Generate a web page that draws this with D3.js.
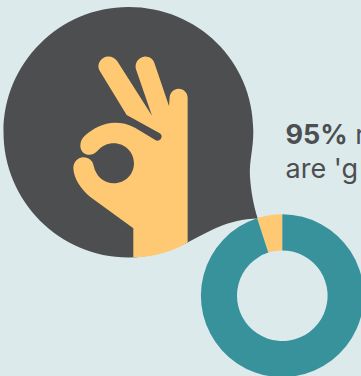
<!DOCTYPE html>
<html>
<head>
<meta charset="utf-8">
<script src="https://cdn.jsdelivr.net/npm/d3@7"></script>
<style>
html,body{margin:0;padding:0;background:#dceaec;overflow:hidden}
svg{display:block}
</style>
</head>
<body>
<svg id="chart" width="361" height="376"></svg>
<script>
// Share of responses shown in the ring
const categories = ["good", "other"];
const shares = [5, 95];
const ringColors = ["#ffc973", "#38929b"];
const captionLines = [["95%", " r"], ["", "are 'g"]];

const svg = d3.select("#chart");

// Speech bubble with a tail running down to the ring
const bubble = d3.path();
bubble.moveTo(253.3, 130);
bubble.bezierCurveTo(253.5, 150, 249, 160, 250, 177);
bubble.bezierCurveTo(251, 192, 254, 207, 257.7, 218.5);
bubble.bezierCurveTo(228, 219, 208, 232, 187.5, 242.5);
bubble.bezierCurveTo(170, 251, 150, 257.5, 128.5, 257.5);
bubble.bezierCurveTo(59.5, 257.5, 3.5, 201, 3.5, 132);
bubble.bezierCurveTo(3.5, 63, 59.5, 7, 128.5, 7);
bubble.bezierCurveTo(197.5, 7, 253, 61, 253.3, 130);
bubble.closePath();
svg.append("path").attr("d", bubble.toString()).attr("fill", "#4d4e50");

// Hand making the OK sign, traced on a 3x grid
const hand = "M400 772 L400 685 L270 590 C240 565 222 535 220 505 C220 485 235 472 250 472 C268 472 278 483 281 497 "
  + "C287 528 312 550 342 550 C376 550 402 523 402 490 C402 457 375 430 342 430 C322 430 306 438 292 453 "
  + "C282 464 272 465 265 464 C250 463 241 450 241 437 C241 425 246 415 256 406 C280 385 310 368 345 368 "
  + "C365 368 385 372 405 383 L466 420 C474 425 485 420 485 409 C485 404 481 401 478 399 L380 345 "
  + "L299 212 C292 200 295 183 310 174 C325 165 342 170 352 184 L456 347 L408 208 C403 190 415 172 432 170 "
  + "C447 168 459 177 463 188 L507 318 L509 292 C510 277 522 266 536 266 C551 266 563 278 563 293 "
  + "L563 727 C530 750 470 772 400 772 Z";
svg.append("path")
  .attr("transform", "scale(0.3333)")
  .attr("d", hand)
  .attr("fill", "#ffc973");

// Ring: slices start at twelve o'clock and the small slice sits just left of it
const pie = d3.pie().sort(null).startAngle(-2 * Math.PI * shares[0] / 100).endAngle(2 * Math.PI - 2 * Math.PI * shares[0] / 100);
const arc = d3.arc().innerRadius(45.3).outerRadius(81.4);
const ring = svg.append("g").attr("transform", "translate(282.3,295.7)");
ring.selectAll("path")
  .data(pie(shares))
  .join("path")
  .attr("d", arc)
  .attr("fill", (d, i) => ringColors[i]);

// Caption, running off the right edge
const caption = svg.append("text")
  .attr("font-family", "Inter, sans-serif")
  .attr("font-size", 27)
  .attr("fill", "#4d4e50");
captionLines.forEach((line, i) => {
  const t = caption.append("tspan").attr("x", 285.5).attr("y", 144 + i * 34);
  if (line[0]) t.append("tspan").attr("font-weight", 700).text(line[0]);
  t.append("tspan").attr("xml:space", "preserve").text(line[1]);
});
</script>
</body>
</html>
